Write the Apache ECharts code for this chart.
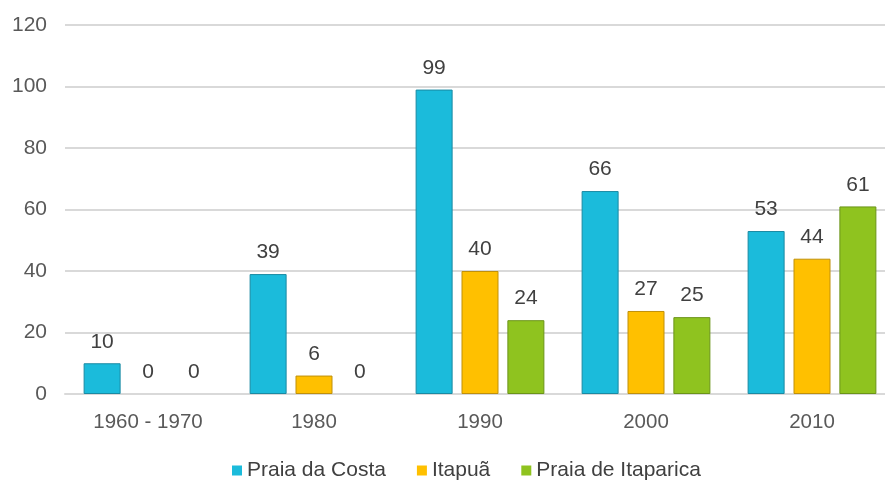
<!DOCTYPE html>
<html>
<head>
<meta charset="utf-8">
<script src="https://cdn.jsdelivr.net/npm/echarts@6/dist/echarts.min.js"></script>
<style>
  html, body { margin: 0; padding: 0; background: #fff; overflow: hidden; }
  #chart { width: 885px; height: 484px; }
</style>
</head>
<body>
<div id="chart"></div>
<script>
// Decades on the x axis
const categories = ['1960 - 1970', '1980', '1990', '2000', '2010'];

// Values per beach
const praiaDaCosta = [10, 39, 99, 66, 53];
const itapua = [0, 6, 40, 27, 44];
const praiaDeItaparica = [0, 0, 24, 25, 61];

const seriesNames = ['Praia da Costa', 'Itapuã', 'Praia de Itaparica'];
const seriesColors = ['#1bbbdb', '#ffc000', '#8fc31f'];
const seriesBorders = ['#1a8aa3', '#c0900a', '#6b9418'];

const fontFamily = 'Liberation Sans, Arial, sans-serif';

function makeSeries(name, data, idx) {
  return {
    name: name,
    type: 'bar',
    // zero-height bars get no outline so nothing shows on the baseline
    data: data.map(v => ({ value: v, itemStyle: { borderWidth: v === 0 ? 0 : 1 } })),
    barWidth: 37,
    barGap: '24%',
    itemStyle: {
      color: seriesColors[idx],
      borderColor: seriesBorders[idx],
      borderWidth: 1
    },
    label: {
      show: true,
      position: 'top',
      distance: 11,
      color: '#404040',
      fontSize: 21,
      fontFamily: fontFamily
    },
    emphasis: { disabled: true }
  };
}

const chart = echarts.init(document.getElementById('chart'), null, { renderer: 'canvas' });
chart.setOption({
  animation: false,
  backgroundColor: '#ffffff',
  // the plot area runs slightly past the right edge of the canvas
  grid: { left: 65, width: 830, top: 25, bottom: 90, containLabel: false, outerBoundsMode: 'none' },
  legend: {
    top: 455,
    left: 227,
    itemWidth: 10,
    itemHeight: 10,
    itemGap: 31,
    icon: 'rect',
    itemStyle: { borderWidth: 0 },
    textStyle: { color: '#404040', fontSize: 21, fontFamily: fontFamily },
    data: seriesNames
  },
  xAxis: {
    type: 'category',
    data: categories,
    axisLine: { show: true, lineStyle: { color: '#d9d9d9', width: 2 } },
    axisTick: { show: false },
    axisLabel: { color: '#595959', fontSize: 20.5, fontFamily: fontFamily, margin: 18 }
  },
  yAxis: {
    type: 'value',
    min: 0,
    max: 120,
    interval: 20,
    axisLine: { show: false },
    axisTick: { show: false },
    splitLine: { lineStyle: { color: '#d9d9d9', width: 2 } },
    axisLabel: { color: '#595959', fontSize: 21, fontFamily: fontFamily, margin: 18 }
  },
  series: [
    makeSeries(seriesNames[0], praiaDaCosta, 0),
    makeSeries(seriesNames[1], itapua, 1),
    makeSeries(seriesNames[2], praiaDeItaparica, 2)
  ]
});
</script>
</body>
</html>
